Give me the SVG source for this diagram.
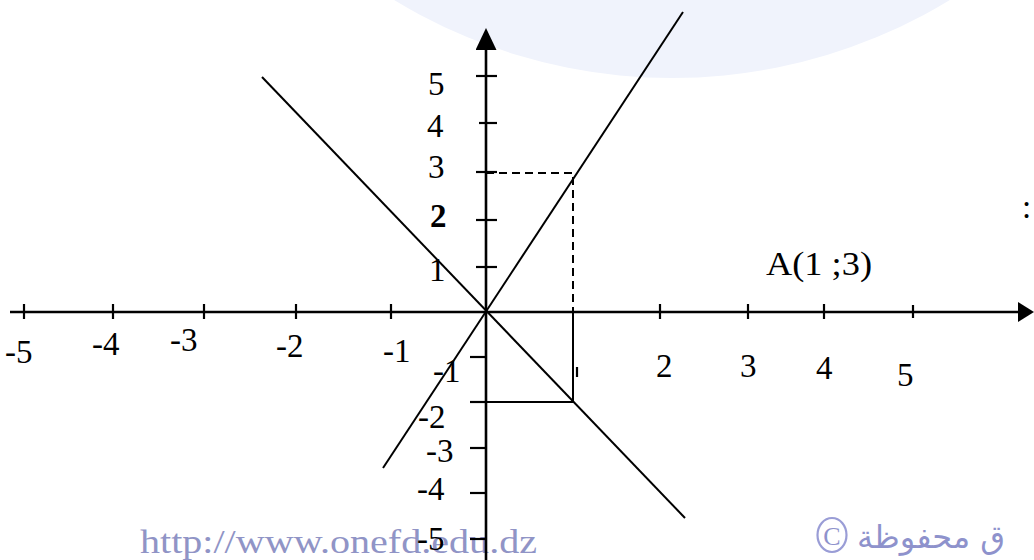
<svg xmlns="http://www.w3.org/2000/svg" width="1034" height="560" viewBox="0 0 1034 560">
  <style>
    .lbl { font-family: "Liberation Serif", "Times New Roman", serif; font-size: 33px; fill: #000; }
    .axis { stroke: #000; stroke-width: 2.6; fill: none; }
    .tick { stroke: #000; stroke-width: 2.2; fill: none; }
    .line { stroke: #000; stroke-width: 2; fill: none; }
    .dash { stroke: #000; stroke-width: 2; fill: none; stroke-dasharray: 8 5; }
    .wm { font-family: "Liberation Serif", "Times New Roman", serif; fill: #9094c6; }
  </style>
  <defs>
    <marker id="arrow-x" viewBox="0 0 16 20" refX="0" refY="10" markerWidth="16" markerHeight="20" markerUnits="userSpaceOnUse" orient="auto">
      <path d="M0,0 L16,10 L0,20 Z" fill="#000"/>
    </marker>
    <marker id="arrow-y" viewBox="0 0 22 21" refX="0" refY="10.5" markerWidth="22" markerHeight="21" markerUnits="userSpaceOnUse" orient="auto">
      <path d="M0,0 L22,10.5 L0,21 Z" fill="#000"/>
    </marker>
  </defs>
  <rect width="1034" height="560" fill="#fff"/>

  <g id="watermark">
    <circle cx="672" cy="-456" r="534" fill="#f0f3fc"/>
    <text class="wm" x="140" y="553" font-size="34" textLength="397" lengthAdjust="spacingAndGlyphs">http://www.onefd.edu.dz</text>
    <ellipse cx="832" cy="535" rx="14.5" ry="17" fill="none" stroke="#9a9dd6" stroke-width="2.2"/>
    <text x="832" y="545" font-family="Liberation Serif, serif" font-size="26" fill="#8e92cc" text-anchor="middle">C</text>
    <text x="857" y="548" font-family="DejaVu Sans, sans-serif" font-size="32" fill="#8e92cc">ق محفوظة</text>
  </g>

  <g id="axes">
    <line id="x-axis" class="axis" x1="10" y1="312" x2="1018" y2="312" marker-end="url(#arrow-x)"/>
    <line id="y-axis" class="axis" x1="486" y1="560" x2="486" y2="50" marker-end="url(#arrow-y)"/>
  </g>

  <g id="ticks">
    <line class="tick" x1="24" y1="304" x2="24" y2="319"/>
    <line class="tick" x1="113" y1="304" x2="113" y2="319"/>
    <line class="tick" x1="204" y1="304" x2="204" y2="319"/>
    <line class="tick" x1="296" y1="304" x2="296" y2="319"/>
    <line class="tick" x1="391" y1="304" x2="391" y2="319"/>
    <line class="tick" x1="660" y1="304" x2="660" y2="319"/>
    <line class="tick" x1="748" y1="304" x2="748" y2="319"/>
    <line class="tick" x1="824" y1="304" x2="824" y2="319"/>
    <line class="tick" x1="913" y1="305" x2="913" y2="318"/>
    <line class="tick" x1="476" y1="76" x2="497" y2="76"/>
    <line class="tick" x1="479" y1="123" x2="497" y2="123"/>
    <line class="tick" x1="476" y1="172" x2="497" y2="172"/>
    <line class="tick" x1="476" y1="220" x2="497" y2="220"/>
    <line class="tick" x1="476" y1="267" x2="497" y2="267"/>
    <line class="tick" x1="470" y1="357" x2="486" y2="357"/>
    <line class="tick" x1="470" y1="402" x2="486" y2="402"/>
    <line class="tick" x1="470" y1="448" x2="486" y2="448"/>
    <line class="tick" x1="470" y1="493" x2="486" y2="493"/>
    <line class="tick" x1="470" y1="539" x2="486" y2="539"/>
    <line class="tick" x1="577" y1="367" x2="577" y2="377" stroke-width="1.5"/>
  </g>

  <g id="connectors">
    <line id="line-2x" class="line" x1="683" y1="12" x2="383" y2="468"/>
    <line id="line-neg-x" class="line" x1="262" y1="77" x2="685" y2="518"/>
    <polyline id="dash-A" class="dash" points="486,173 573,173 573,312"/>
    <polyline id="solid-B" class="line" points="486,402 573,402 573,312"/>
  </g>

  <g id="x-labels">
    <text class="lbl" x="5" y="363">-5</text>
    <text class="lbl" x="92" y="355">-4</text>
    <text class="lbl" x="170" y="351">-3</text>
    <text class="lbl" x="276" y="357">-2</text>
    <text class="lbl" x="383" y="362">-1</text>
    <text class="lbl" x="656" y="377">2</text>
    <text class="lbl" x="740" y="377">3</text>
    <text class="lbl" x="816" y="379">4</text>
    <text class="lbl" x="897" y="386">5</text>
  </g>

  <g id="y-labels">
    <text class="lbl" x="428" y="95">5</text>
    <text class="lbl" x="427" y="137">4</text>
    <text class="lbl" x="428" y="178">3</text>
    <text class="lbl" x="430" y="227" font-weight="bold">2</text>
    <text class="lbl" x="429" y="281">1</text>
    <text class="lbl" x="433" y="382">-1</text>
    <text class="lbl" x="418" y="428">-2</text>
    <text class="lbl" x="426" y="462">-3</text>
    <text class="lbl" x="417" y="500">-4</text>
    <text class="lbl" x="417" y="550">-5</text>
  </g>

  <g id="point-A">
    <text class="lbl" x="766" y="275" font-size="33" textLength="106" lengthAdjust="spacingAndGlyphs">A(1 ;3)</text>
  </g>
  <g id="colon">
    <text class="lbl" x="1022" y="218">:</text>
  </g>
</svg>
